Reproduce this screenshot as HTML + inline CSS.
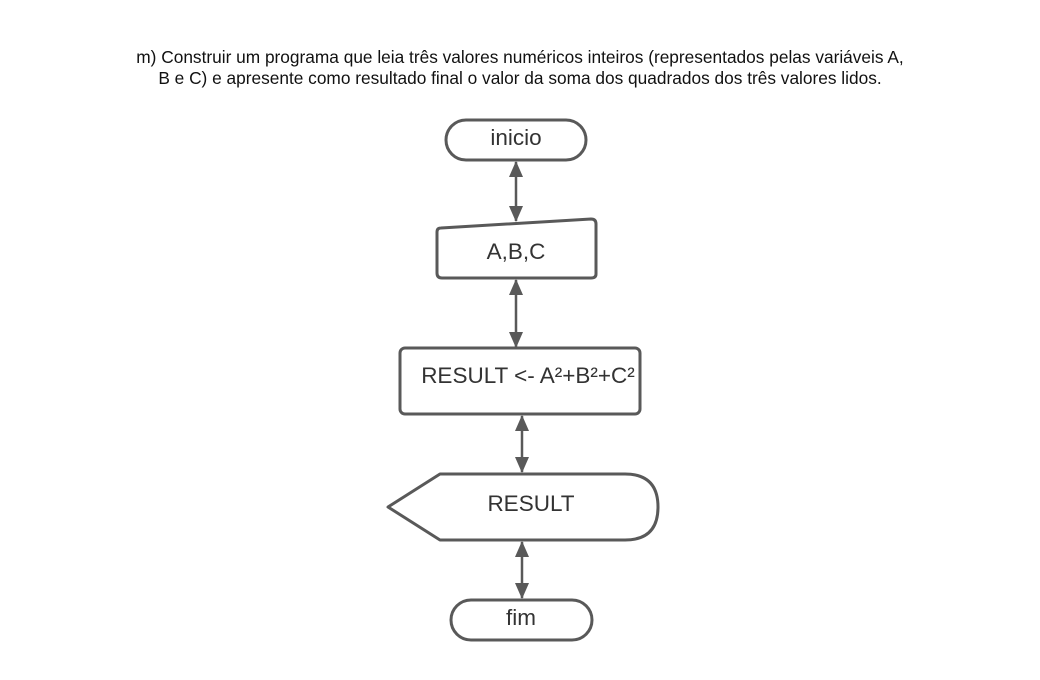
<!DOCTYPE html>
<html><head><style>
body{margin:0;background:#fff;}
svg{display:block;}
</style></head><body>
<svg width="1040" height="680" viewBox="0 0 1040 680" xmlns="http://www.w3.org/2000/svg">
<defs>
<marker id="a" markerWidth="16" markerHeight="14" refX="15" refY="7" orient="auto-start-reverse" markerUnits="userSpaceOnUse">
<path d="M0,0 L16,7 L0,14 z" fill="#595959"/>
</marker>
</defs>
<g font-family="Liberation Sans, sans-serif" fill="#111" font-size="17.3" text-anchor="middle">
<text x="520" y="63">m) Construir um programa que leia três valores numéricos inteiros (representados pelas variáveis A,</text>
<text x="520" y="84">B e C) e apresente como resultado final o valor da soma dos quadrados dos três valores lidos.</text>
</g>
<g fill="none" stroke="#595959" stroke-width="3">
<rect x="446" y="120" width="140" height="40" rx="20"/>
<path d="M441,228 L591,219 Q596,219 596,224 L596,274 Q596,278 591,278 L442,278 Q437,278 437,273 L437,232 Q437,228 441,228 z"/>
<rect x="400" y="348" width="240" height="66" rx="5"/>
<path d="M440,474 L625,474 Q658,474 658,507 Q658,540 625,540 L440,540 L388,507 z" stroke-linejoin="round"/>
<rect x="451" y="600" width="141" height="40" rx="20"/>
</g>
<g stroke="#595959" stroke-width="2.5" marker-start="url(#a)" marker-end="url(#a)">
<line x1="516" y1="162" x2="516" y2="221"/>
<line x1="516" y1="280" x2="516" y2="347"/>
<line x1="522" y1="416" x2="522" y2="472"/>
<line x1="522" y1="542" x2="522" y2="598"/>
</g>
<g font-family="Liberation Sans, sans-serif" fill="#333" font-size="22.5" text-anchor="middle">
<text x="516" y="145">inicio</text>
<text x="516" y="259">A,B,C</text>
<text x="528" y="383">RESULT &lt;- A²+B²+C²</text>
<text x="531" y="511">RESULT</text>
<text x="521" y="625">fim</text>
</g>
</svg>
</body></html>
